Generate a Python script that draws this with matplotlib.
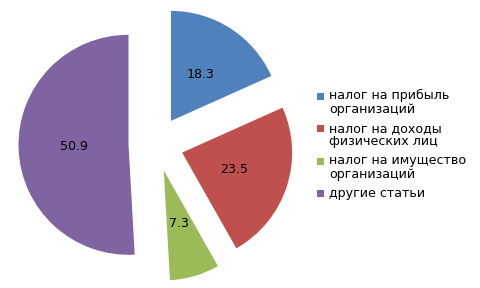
import matplotlib
matplotlib.use("Agg")
import matplotlib.pyplot as plt
from matplotlib.patches import Rectangle

plt.rcParams["font.family"] = ["DejaVu Sans"]

# shares of budget revenue, %
categories = [
    "налог на прибыль\nорганизаций",
    "налог на доходы\nфизических лиц",
    "налог на имущество\nорганизаций",
    "другие статьи",
]
values = [18.3, 23.5, 7.3, 50.9]
colors = ["#4F81BD", "#C0504D", "#9BBB59", "#8064A2"]

W, H = 480, 288
CX, CY, R = 156, 144, 110  # pie centre and radius, px
FS = 9.1

fig = plt.figure(figsize=(W / 100, H / 100), dpi=100)
ax = fig.add_axes([0, 0, 1, 1])

ax.pie(
    values,
    colors=colors,
    explode=[0.25] * len(values),
    startangle=90,
    counterclock=False,
    autopct=lambda p: f"{p:.1f}",
    pctdistance=0.5,
    textprops={"fontsize": FS, "color": "black"},
    wedgeprops={"linewidth": 0},
)

ax.set_aspect("equal")
ax.set_xlim(-CX / R, (W - CX) / R)
ax.set_ylim(-(H - CY) / R, CY / R)
ax.axis("off")

# legend, squares aligned with the first line of each label
line_h = 13.4
gap = 5.7
y = 99.3
for label, color in zip(categories, colors):
    fig.patches.append(
        Rectangle(
            (316.7 / W, 1 - (y + 0.5) / H),
            7 / W,
            7 / H,
            transform=fig.transFigure,
            facecolor=color,
            edgecolor="none",
        )
    )
    for line in label.split("\n"):
        fig.text(329 / W, 1 - y / H, line, fontsize=FS, va="baseline", ha="left")
        y += line_h
    y += gap

fig.savefig("out.png", dpi=100)
